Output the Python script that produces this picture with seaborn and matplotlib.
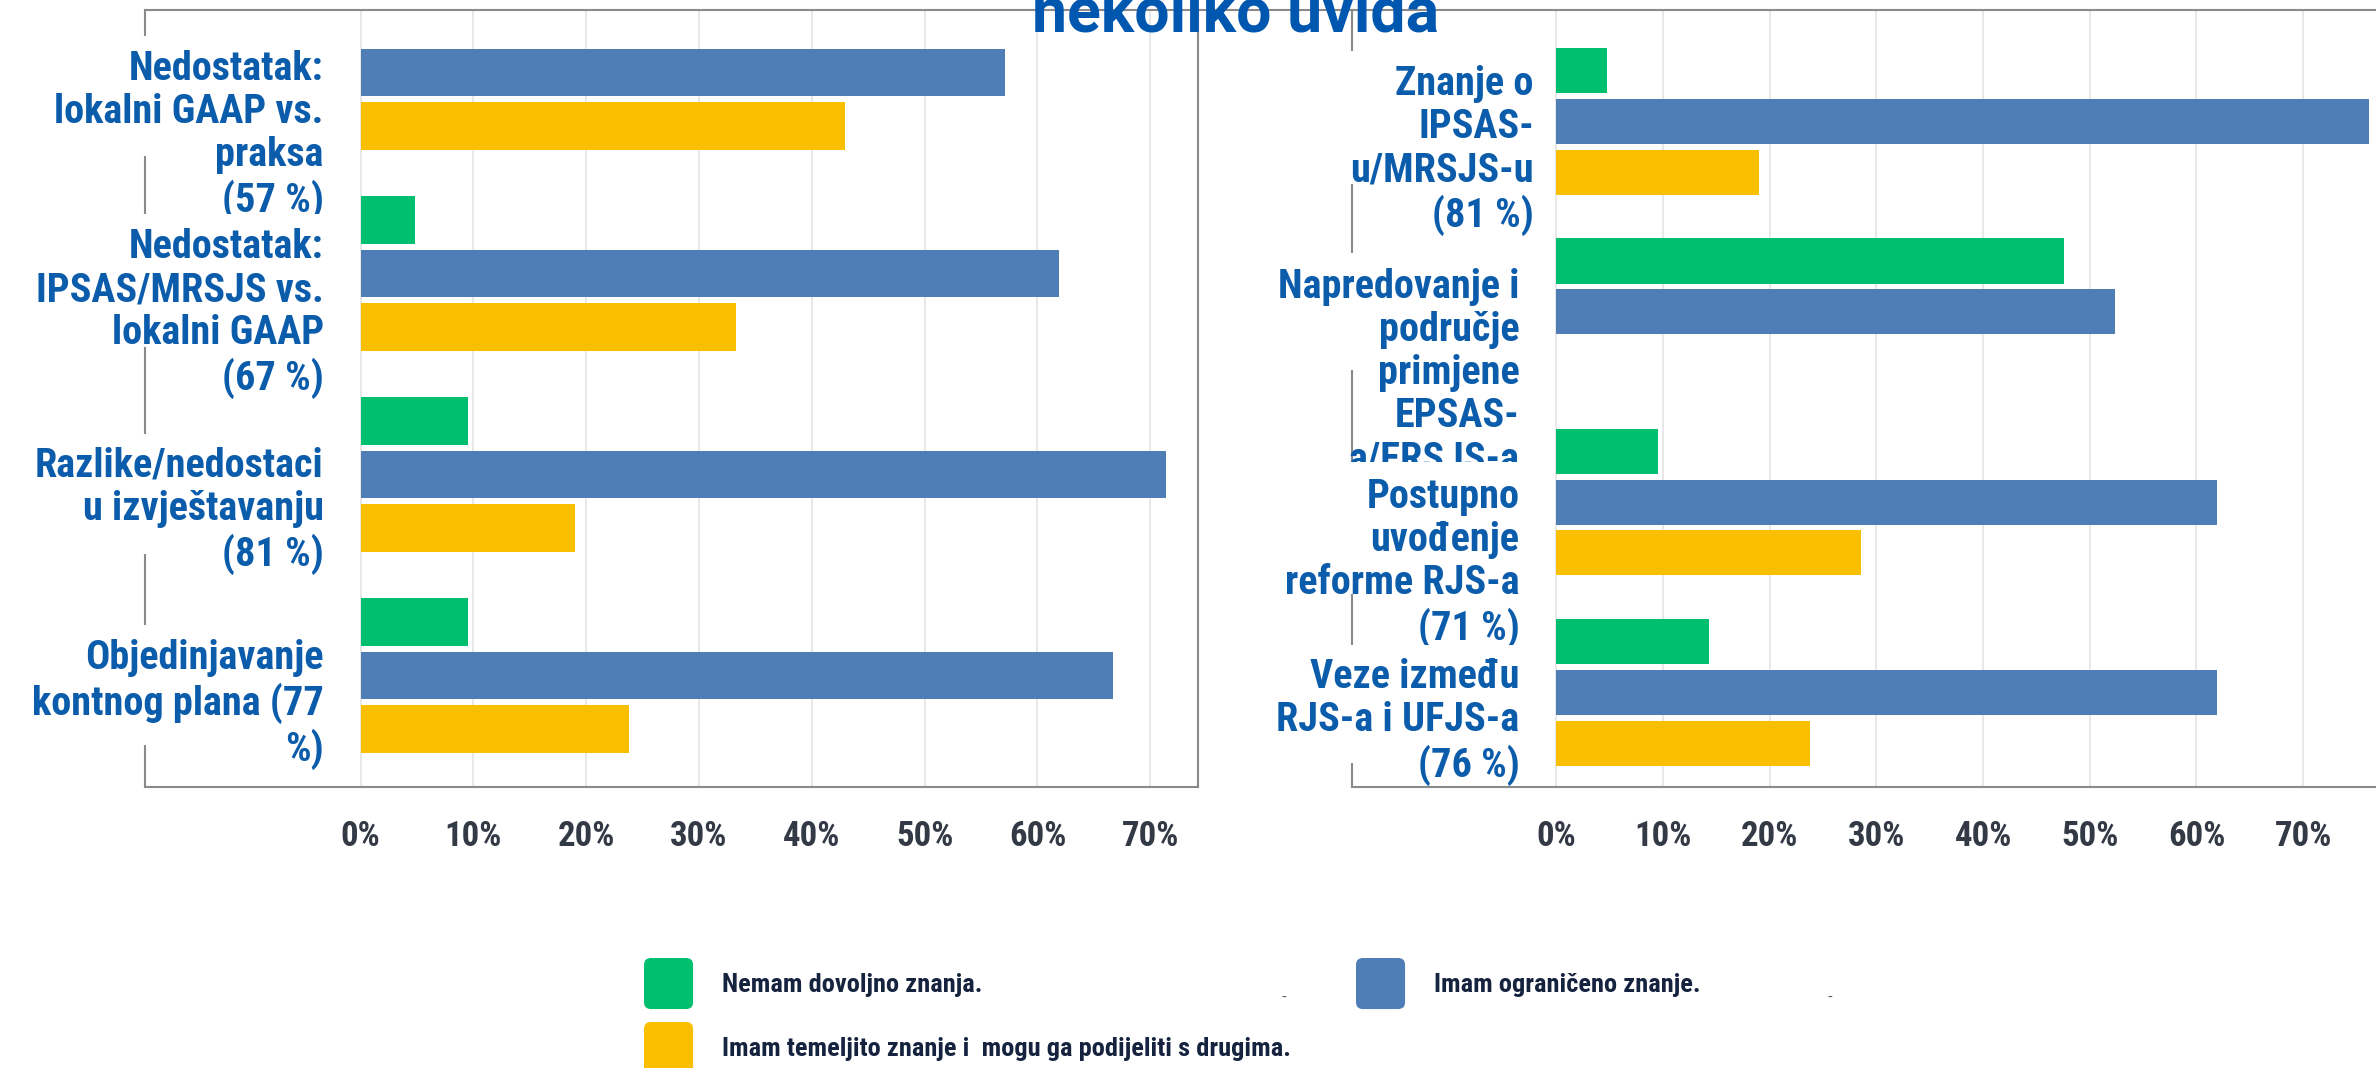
import os
import pandas as pd
import matplotlib
matplotlib.use("Agg")
import matplotlib.pyplot as plt
from matplotlib import font_manager as fm
from matplotlib.patches import Rectangle, FancyBboxPatch, Patch
from matplotlib.legend_handler import HandlerPatch
from matplotlib.lines import Line2D
import seaborn as sns

# answer categories (legend) and their colours
series = ["Nemam dovoljno znanja.",
          "Imam ograničeno znanje.",
          "Imam temeljito znanje i  mogu ga podijeliti s drugima."]
colors = ["#00bf6f", "#4f7db5", "#f9bf00"]

# left panel, share of answers in %
left_labels = ["Nedostatak:\nlokalni GAAP vs.\npraksa\n(57 %)",
               "Nedostatak:\nIPSAS/MRSJS vs.\nlokalni GAAP\n(67 %)",
               "Razlike/nedostaci\nu izvještavanju\n(81 %)",
               "Objedinjavanje\nkontnog plana (77\n%)"]
left_none = [0.0, 4.8, 9.5, 9.5]
left_limited = [57.1, 61.9, 71.4, 66.7]
left_thorough = [42.9, 33.3, 19.0, 23.8]

# right panel, share of answers in %
right_labels = ["Znanje o\nIPSAS-\nu/MRSJS-u\n(81 %)",
                "Napredovanje i\npodručje\nprimjene\nEPSAS-\na/ERSJS-a",
                "Postupno\nuvođenje\nreforme RJS-a\n(71 %)",
                "Veze između\nRJS-a i UFJS-a\n(76 %)"]
right_none = [4.8, 47.6, 9.5, 14.3]
right_limited = [76.2, 52.4, 61.9, 61.9]
right_thorough = [19.0, 0.0, 28.6, 23.8]

tick_values = [0, 10, 20, 30, 40, 50, 60, 70]
tick_labels = [f"{v}%" for v in tick_values]
title = "nekoliko uvida"


def find_font(size):
    # look for a bold condensed face, the original uses a narrow sans
    prefs = ["roboto", "open sans", "noto sans", "dejavu sans", "liberation sans"]
    best = None
    for f in fm.fontManager.ttflist:
        low = (f.name + " " + os.path.basename(f.fname)).lower()
        narrow = (f.stretch in ("condensed", "semi-condensed", "extra-condensed")
                  or "condensed" in low or "narrow" in low)
        if not narrow or f.style != "normal" or "mono" in low:
            continue
        w = f.weight if isinstance(f.weight, int) else fm.weight_dict.get(f.weight, 400)
        rank = next((k for k, p in enumerate(prefs) if p in low), len(prefs))
        score = (abs(w - 700), rank)
        if best is None or score < best[0]:
            best = (score, f.fname)
    if best is None:
        return fm.FontProperties(family="DejaVu Sans", weight="bold", size=size)
    return fm.FontProperties(fname=best[1], size=size)


def make_frame(labels, a, b, c):
    rows = []
    for lab, v1, v2, v3 in zip(labels, a, b, c):
        rows += [(lab, series[0], v1), (lab, series[1], v2), (lab, series[2], v3)]
    return pd.DataFrame(rows, columns=["tema", "odgovor", "udio"])


sns.set_style("white")
fp_label = find_font(29)
fp_tick = find_font(25)
fp_legend = find_font(19)
fp_title = fm.FontProperties(family=["Roboto", "DejaVu Sans"], weight="bold", size=45)

W, H = 2376, 1068
fig = plt.figure(figsize=(W / 100, H / 100), dpi=100)

label_color = "#0b5cab"
frame_color = "#8a8a8a"


def draw_panel(rect, df, labels, xlim, ylim, label_x, label_top, boxes):
    ax = fig.add_axes(rect)
    sns.barplot(data=df, y="tema", x="udio", hue="odgovor", order=labels,
                hue_order=series, palette=dict(zip(series, colors)),
                saturation=1, width=0.8, gap=0.11, orient="h", errorbar=None,
                legend=False, linewidth=0, ax=ax)
    ax.set_xlim(*xlim)
    ax.set_ylim(*ylim)
    ax.set_xticks(tick_values)
    ax.set_xticklabels(tick_labels)
    ax.set_yticks([])
    ax.set_xlabel("")
    ax.set_ylabel("")
    ax.grid(axis="x", color="#e8e8e8", linewidth=1.5)
    ax.grid(axis="y", visible=False)
    ax.set_axisbelow(True)
    ax.tick_params(axis="x", length=0, pad=24, colors="#333a45")
    for t in ax.get_xticklabels():
        t.set_fontproperties(fp_tick)
    for s in ax.spines.values():
        s.set_color(frame_color)
        s.set_linewidth(1.5)
    # white label boxes hide parts of the frame, as in the original
    for i, lab in enumerate(labels):
        b0, b1 = boxes[i]
        ax.add_patch(Rectangle((xlim[0] - 6, i + b0), -xlim[0] + 6 - 0.7, b1 - b0,
                               facecolor="white", edgecolor="none",
                               zorder=3 + 2 * i, clip_on=False))
        ax.text(label_x[i], i + label_top[i], lab, ha="right", va="top",
                color=label_color, fontproperties=fp_label, linespacing=1.17,
                zorder=4 + 2 * i)
    return ax


# left panel: frame 145..1197 px, 0 % at 360.5 px, 11.28 px per %
ax1 = draw_panel([145 / W, 1 - 787 / H, (1197.7 - 145) / W, 777 / H],
                 make_frame(left_labels, left_none, left_limited, left_thorough),
                 left_labels, (-19.1, 74.2), (3.555, -0.311),
                 [-3.26] * 4, [-0.112, -0.226, -0.137, -0.182],
                 [(-0.182, 0.415), (-0.296, 0.366), (-0.201, 0.396), (-0.251, 0.346)])

# right panel: frame from 1351.5 px, 0 % at 1556 px, 10.67 px per %
ax2 = draw_panel([1351.5 / W, 1 - 787 / H, (2380 - 1351.5) / W, 777 / H],
                 make_frame(right_labels, right_none, right_limited, right_thorough),
                 right_labels, (-19.19, 77.2), (3.497, -0.586),
                 [-2.1, -3.45, -3.45, -3.45], [-0.297, -0.231, -0.126, -0.181],
                 [(-0.370, 0.328), (-0.310, 0.305), (-0.210, 0.483), (-0.250, 0.370)])

# top frame line continues between the two panels
fig.add_artist(Line2D([1197.7 / W, 1351.5 / W], [1 - 10 / H, 1 - 10 / H],
                      color=frame_color, linewidth=1.5))

fig.text(1236 / W, 1 - 31 / H, title, ha="center", va="baseline",
         color="#0057b0", fontproperties=fp_title)


def rounded(legend, orig_handle, xdescent, ydescent, width, height, fontsize):
    return FancyBboxPatch((-xdescent, -ydescent), width, height,
                          boxstyle="round,pad=0,rounding_size=5")


hmap = {Patch: HandlerPatch(patch_func=rounded)}
handles = [Patch(facecolor=c, edgecolor="none", label=s) for s, c in zip(series, colors)]
leg_kw = dict(loc="upper left", frameon=False, borderpad=0, borderaxespad=0,
              handlelength=1.86, handleheight=2.6, handletextpad=1.1,
              labelspacing=0.49, prop=fp_legend, labelcolor="#15233f",
              handler_map=hmap)
fig.legend(handles=[handles[0], handles[2]], bbox_to_anchor=(644 / W, 1 - 958 / H), **leg_kw)
fig.legend(handles=[handles[1]], bbox_to_anchor=(1356 / W, 1 - 958 / H), **leg_kw)

fig.text(1284 / W, 1 - 998 / H, "-", ha="center", va="center", color="#555555", fontsize=10)
fig.text(1830 / W, 1 - 998 / H, "-", ha="center", va="center", color="#555555", fontsize=10)

fig.savefig("out.png", dpi=100)
